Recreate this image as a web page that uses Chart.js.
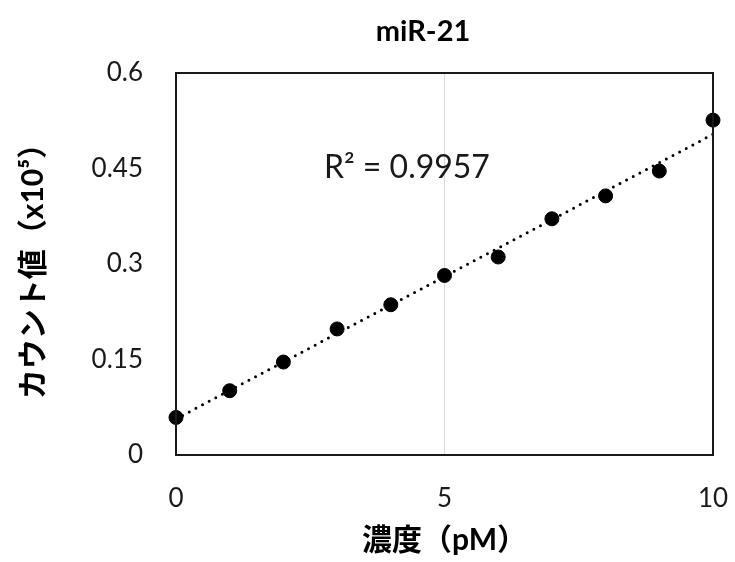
<!DOCTYPE html>
<html>
<head>
<meta charset="utf-8">
<script src="https://cdn.jsdelivr.net/npm/chart.js@4.4.0/dist/chart.umd.min.js"></script>
<style>
  html, body { margin: 0; padding: 0; background: #fff; overflow: hidden; }
  #wrap { width: 735px; height: 562px; }
  canvas { display: block; }
</style>
</head>
<body>
<div id="wrap"><canvas id="calib"></canvas></div>
<script>
// concentration (pM) and counts (x10^5)
const conc = [0, 1, 2, 3, 4, 5, 6, 7, 8, 9, 10];
const counts = [0.059, 0.101, 0.146, 0.198, 0.236, 0.282, 0.311, 0.371, 0.407, 0.446, 0.526];
const yTicks = [0, 0.15, 0.3, 0.45, 0.6];
const xTicks = [0, 5, 10];
const r2Label = "R\u00b2 = 0.9957";
const chartTitle = "miR-21";

const FONT = "Lato, 'Noto Sans CJK JP', sans-serif";

// least squares fit for the trendline
const n = conc.length;
const mx = conc.reduce((a, b) => a + b, 0) / n;
const my = counts.reduce((a, b) => a + b, 0) / n;
let sxy = 0, sxx = 0;
conc.forEach((x, i) => { sxy += (x - mx) * (counts[i] - my); sxx += (x - mx) * (x - mx); });
const slope = sxy / sxx;
const icept = my - slope * mx;
const xMin = conc[0], xMax = conc[conc.length - 1];
const trend = [{ x: xMin, y: icept + slope * xMin }, { x: xMax, y: icept + slope * xMax }];

const frame = {
  id: "frame",
  afterDraw(chart) {
    const { ctx, chartArea: a, scales } = chart;
    ctx.save();
    ctx.strokeStyle = "#1a1a1a";
    ctx.lineWidth = 2;
    ctx.strokeRect(a.left, a.top, a.right - a.left, a.bottom - a.top);
    ctx.textAlign = "center";
    ctx.textBaseline = "middle";
    ctx.fillStyle = "#1a1a1a";
    ctx.font = "32px " + FONT;
    ctx.fillText(r2Label, scales.x.getPixelForValue(4.3), scales.y.getPixelForValue(0.452));
    // chart title, Excel style, a bit left of the plot centre
    ctx.fillStyle = "#000";
    ctx.font = "bold 29px " + FONT;
    ctx.fillText(chartTitle, a.left + (a.right - a.left) * 0.46, 32);
    ctx.restore();
  },
};

new Chart(document.getElementById("calib").getContext("2d"), {
  type: "scatter",
  data: {
    datasets: [
      {
        label: "trend",
        data: trend,
        showLine: true,
        borderColor: "#000",
        borderWidth: 3,
        borderDash: [0, 7.5],
        borderCapStyle: "round",
        pointRadius: 0,
        order: 2,
      },
      {
        label: chartTitle,
        data: conc.map((x, i) => ({ x, y: counts[i] })),
        backgroundColor: "#000",
        borderColor: "#000",
        pointRadius: 7,
        clip: false,
        order: 1,
      },
    ],
  },
  options: {
    responsive: true,
    maintainAspectRatio: false,
    animation: false,
    layout: { padding: { left: 0, right: 22, top: 73, bottom: 0 } },
    scales: {
      x: {
        type: "linear",
        min: 0,
        max: 10,
        afterBuildTicks: (s) => { s.ticks = xTicks.map((v) => ({ value: v })); },
        afterFit: (s) => { s.height = 107; s.paddingLeft = 0; s.paddingRight = 0; },
        grid: {
          drawTicks: false,
          color: (c) => (c.tick && c.tick.value === 5 ? "#d9d9d9" : "rgba(0,0,0,0)"),
        },
        border: { display: false },
        ticks: {
          color: "#1a1a1a",
          padding: 28,
          font: { size: 26, family: FONT },
          callback: (v) => String(v),
        },
        title: {
          display: true,
          text: "濃度（pM）",
          color: "#000",
          font: { size: 30, weight: "bold", family: FONT },
          padding: { top: 0, bottom: 4 },
        },
      },
      y: {
        min: 0,
        max: 0.6,
        afterBuildTicks: (s) => { s.ticks = yTicks.map((v) => ({ value: v })); },
        afterFit: (s) => { s.width = 176; },
        grid: { display: false, drawTicks: false },
        border: { display: false },
        ticks: {
          color: "#1a1a1a",
          padding: 33,
          font: { size: 26, family: FONT },
          callback: (v) => String(v),
        },
        title: {
          display: true,
          text: "カウント値（x10⁵）",
          color: "#000",
          font: { size: 30, weight: "bold", family: FONT },
          padding: { top: 15, bottom: 0 },
        },
      },
    },
    plugins: {
      legend: { display: false },
      tooltip: { enabled: false },
      title: { display: false },
    },
  },
  plugins: [frame],
});
</script>
</body>
</html>
